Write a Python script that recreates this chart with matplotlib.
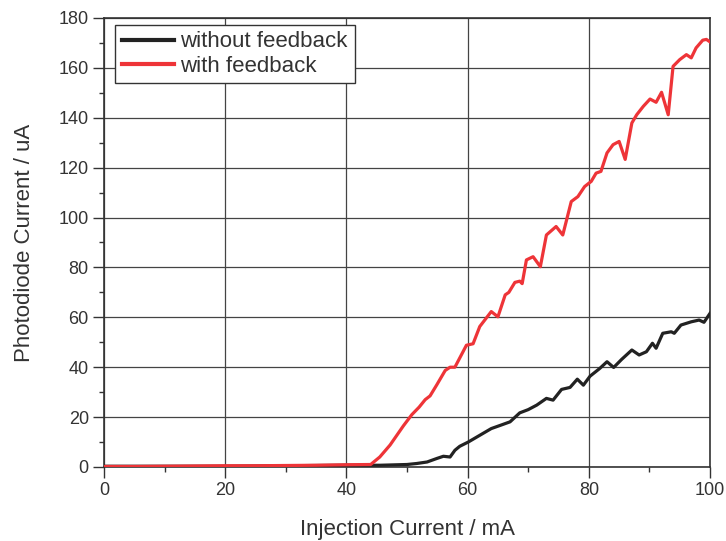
import matplotlib
matplotlib.use('Agg')
import matplotlib.pyplot as plt
from matplotlib import rcParams
import matplotlib.ticker as ticker

rcParams['font.family'] = ['Liberation Sans', 'DejaVu Sans']
rcParams['font.size'] = 13.0

# without feedback (black)
nofb_x = [0, 10, 20, 30, 40, 45.6, 50, 51.6, 53.3, 54.9, 56, 57.1, 57.9, 58.7, 60.1,
          62, 63.9, 65.4, 67, 68.6, 70, 71.4, 73, 74.1, 75.5, 76.9, 78.1, 79.1, 80.2,
          81.8, 83, 84.1, 85.4, 87.1, 88.3, 89.5, 90.5, 91.1, 92.2, 93.6, 94.1, 95.2,
          96.9, 98.2, 99, 100]
nofb_y = [0.3, 0.3, 0.3, 0.5, 0.7, 0.7, 1.0, 1.4, 2.0, 3.4, 4.3, 4.0, 6.7, 8.3, 10.0,
          12.7, 15.4, 16.7, 18.1, 21.7, 23.0, 24.8, 27.5, 26.8, 31.1, 31.9, 35.2, 32.8, 36.4,
          39.5, 42.2, 39.9, 43.1, 46.9, 44.9, 46.2, 49.6, 47.6, 53.6, 54.2, 53.6, 56.9,
          58.2, 58.9, 58.0, 61.6]

# with feedback (red)
fb_x = [0, 5, 10, 15, 20, 25, 30, 35, 40, 44, 45.5, 47.2, 49.4, 50.8, 52, 53, 53.8,
        54.9, 56.3, 57.1, 57.9, 59.8, 60.9, 62, 63.9, 65, 66.2, 66.8, 67.8, 68.6, 69,
        69.7, 70.8, 72, 73, 74.6, 75.7, 77.1, 78.2, 79.3, 80.4, 81.2, 82, 83, 84, 85,
        86, 87.1, 87.9, 89, 90.1, 91.1, 92, 93.1, 93.9, 95, 96.1, 96.9, 97.7, 98.8,
        99.4, 100]
fb_y = [0.2, 0.2, 0.3, 0.4, 0.5, 0.5, 0.6, 0.7, 0.9, 1.0, 4.0, 8.8, 16.5, 21.0, 24.0,
        27.0, 28.5, 32.9, 38.7, 40.0, 40.0, 48.8, 49.4, 56.3, 62.3, 60.2, 69.0, 70.0,
        74.0, 74.5, 73.5, 83.0, 84.3, 80.3, 93.0, 96.4, 93.0, 106.4, 108.4, 112.4,
        114.5, 117.8, 118.5, 125.9, 129.2, 130.5, 123.3, 137.9, 141.2, 144.6, 147.5,
        146.2, 150.2, 141.2, 160.6, 163.3, 165.3, 164.0, 168.0, 171.1, 171.4, 170.4]

fig = plt.figure(figsize=(7.26, 5.41), dpi=100)
ax = fig.add_axes([0.1433, 0.1368, 0.8347, 0.83])

ax.plot(nofb_x, nofb_y, color='#222222', lw=2.3, label='without feedback', zorder=3)
ax.plot(fb_x, fb_y, color='#ee3438', lw=2.3, label='with feedback', zorder=4)

ax.set_xlim(0, 100)
ax.set_ylim(0, 180)
ax.xaxis.set_major_locator(ticker.MultipleLocator(20))
ax.xaxis.set_minor_locator(ticker.MultipleLocator(10))
ax.yaxis.set_major_locator(ticker.MultipleLocator(20))
ax.yaxis.set_minor_locator(ticker.MultipleLocator(10))
ax.tick_params(which='major', direction='out', length=8, width=1.0, colors='#333333',
               labelsize=13, top=False, right=False, pad=3)
ax.tick_params(which='minor', direction='out', length=3.5, width=1.0, colors='#333333',
               top=False, right=False)
ax.grid(True, which='major', color='#444444', lw=0.9)
for s in ax.spines.values():
    s.set_color('#333333')
    s.set_linewidth(1.2)

ax.set_xlabel('Injection Current / mA', fontsize=16, color='#333333', labelpad=14)
ax.set_ylabel('Photodiode Current / uA', fontsize=16, color='#333333', labelpad=17)

leg = ax.legend(loc='upper left', bbox_to_anchor=(0.018, 0.985), fontsize=16,
                fancybox=False, framealpha=1, edgecolor='#333333', handlelength=2.35,
                handletextpad=0.3, borderpad=0.3, labelspacing=0.15, borderaxespad=0)
leg.get_frame().set_linewidth(1.0)
for line in leg.get_lines():
    line.set_linewidth(3.0)
for t in leg.get_texts():
    t.set_color('#333333')

fig.savefig('out.png', dpi=100)
